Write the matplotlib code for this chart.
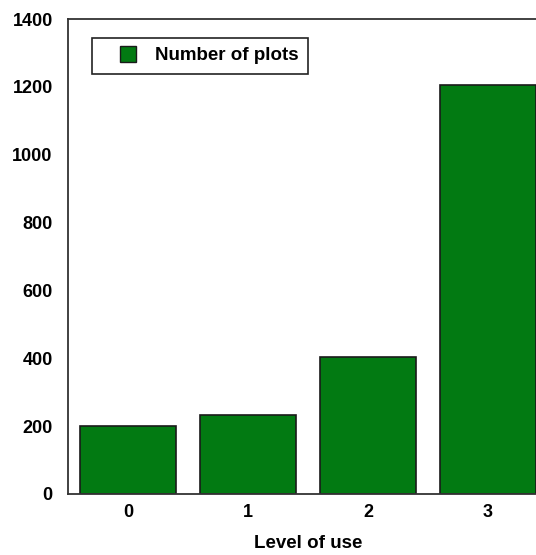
import matplotlib
matplotlib.use("Agg")
import matplotlib.pyplot as plt
from matplotlib.lines import Line2D

# Number of plots at each level of use
levels = [0, 1, 2, 3]
plot_counts = [200, 232, 405, 1205]
level_labels = ["0", "1", "2", "3"]
y_ticks = [0, 200, 400, 600, 800, 1000, 1200, 1400]

bar_color = "#027A12"
edge_color = "#1a1a1a"

plt.rcParams["font.family"] = ["Liberation Sans", "DejaVu Sans"]
plt.rcParams["font.weight"] = "bold"

W, H = 536, 555
fig = plt.figure(figsize=(W / 100, H / 100), dpi=100)

# axes box in pixels: left 68, right 548 (extends past the canvas), top 19, bottom 494
left, right, top, bottom = 68, 548, 19, 494
ax = fig.add_axes([left / W, (H - bottom) / H, (right - left) / W, (bottom - top) / H])

ax.bar(levels, plot_counts, width=0.8, color=bar_color,
       edgecolor=edge_color, linewidth=1.2, zorder=2)

ax.set_xlim(-0.5, 3.5)
ax.set_ylim(0, 1400)
ax.set_yticks(y_ticks)
ax.set_yticklabels([str(v) for v in y_ticks], fontsize=13, fontweight="bold")
ax.set_xticks(levels)
ax.set_xticklabels(level_labels, fontsize=13, fontweight="bold")
ax.tick_params(axis="y", length=0, pad=11)
ax.tick_params(axis="x", length=0, pad=7)

for s in ax.spines.values():
    s.set_color("#333333")
    s.set_linewidth(1.3)

ax.set_xlabel("Level of use", fontsize=13.5, fontweight="bold", labelpad=10)

handle = Line2D([], [], linestyle="none", marker="s", markersize=11.5,
                markerfacecolor=bar_color, markeredgecolor=edge_color,
                markeredgewidth=1.0)
leg = ax.legend([handle], ["Number of plots"], loc="upper left",
                bbox_to_anchor=(92 / W, 1 - 38 / H), bbox_transform=fig.transFigure,
                borderaxespad=0, borderpad=0.5, handlelength=2.8,
                handletextpad=0.05, fancybox=False, framealpha=1,
                edgecolor="#222222", prop={"size": 13.5, "weight": "bold"})
leg.get_frame().set_linewidth(1.2)

fig.savefig("out.png", dpi=100)
